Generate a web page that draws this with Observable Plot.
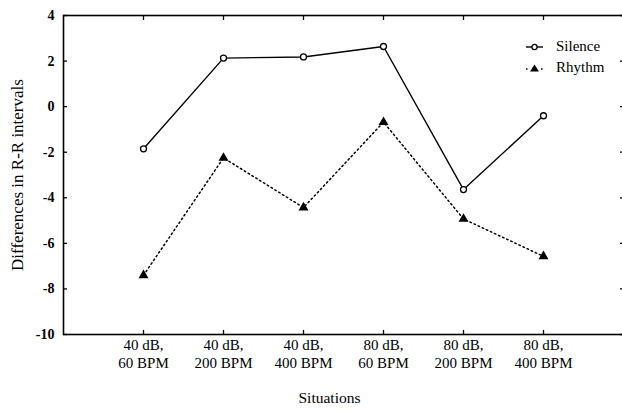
<!DOCTYPE html>
<html><head><meta charset="utf-8">
<script src="https://cdn.jsdelivr.net/npm/d3@7"></script>
<script src="https://cdn.jsdelivr.net/npm/@observablehq/plot@0.6"></script>
<style>
body{margin:0;background:#fff;}
#wrap{position:relative;width:622px;height:410px;font-family:"Liberation Serif","Times New Roman",Times,"DejaVu Serif","Noto Serif",serif;overflow:hidden;}
#legend{position:absolute;left:522px;top:36px;font-size:15px;color:#000;}
.lrow{display:flex;align-items:center;height:21px;}
.lrow svg{margin-right:10px;}
</style></head><body>
<div id="wrap"><div id="chart"></div><div id="legend"></div></div>
<script>
const situations = ["40 dB,\n60 BPM", "40 dB,\n200 BPM", "40 dB,\n400 BPM", "80 dB,\n60 BPM", "80 dB,\n200 BPM", "80 dB,\n400 BPM"];
const silence = [-1.85, 2.13, 2.18, 2.64, -3.64, -0.40];
const rhythm = [-7.40, -2.25, -4.43, -0.68, -4.93, -6.57];
const yTicks = [4, 2, 0, -2, -4, -6, -8, -10];
const seriesNames = ["Silence", "Rhythm"];
const yLabel = "Differences in R-R intervals";
const xLabel = "Situations";

const FONT = "'Liberation Serif', 'Times New Roman', Times, 'DejaVu Serif', 'Noto Serif', serif";
const silenceRows = situations.map((s, i) => ({situation: s, series: seriesNames[0], value: silence[i]}));
const rhythmRows = situations.map((s, i) => ({situation: s, series: seriesNames[1], value: rhythm[i]}));

const chart = Plot.plot({
  width: 622, height: 410,
  marginLeft: 63, marginRight: -1, marginTop: 15, marginBottom: 76,
  style: {fontFamily: FONT, fontSize: "15px", background: "#fff", color: "#000", overflow: "visible"},
  x: {type: "point", domain: situations, padding: 1},
  y: {domain: [-10, 4]},
  marks: [
    Plot.frame({stroke: "#000", strokeWidth: 1.6}),
    Plot.axisY(yTicks, {anchor: "left", tickSize: -4, tickPadding: 13, tickFormat: d => String(d), fontWeight: "bold", fontSize: 14, fontFamily: FONT, label: null, strokeWidth: 1.3}),
    Plot.axisY(yTicks, {anchor: "right", tickSize: -4, tickFormat: () => "", label: null, strokeWidth: 1.3}),
    Plot.axisX({anchor: "bottom", tickSize: -4, tickPadding: 7, fontSize: 15, fontFamily: FONT, lineHeight: 1.2, label: null, strokeWidth: 1.3}),
    Plot.axisX({anchor: "top", tickSize: -4, tickFormat: () => "", label: null, strokeWidth: 1.3}),
    Plot.text([yLabel], {frameAnchor: "left", dx: -46, rotate: -90, textAnchor: "middle", fontSize: 17, fontFamily: FONT}),
    Plot.text([xLabel], {frameAnchor: "bottom", dy: 68, dx: -14, fontSize: 15.5, fontFamily: FONT}),
    Plot.line(silenceRows, {x: "situation", y: "value", stroke: "#000", strokeWidth: 1.4}),
    Plot.line(rhythmRows, {x: "situation", y: "value", stroke: "#000", strokeWidth: 1.5, strokeDasharray: "1.5,3"}),
    Plot.dot(silenceRows, {x: "situation", y: "value", symbol: "circle", r: 3, fill: "#fff", stroke: "#000", strokeWidth: 1.3}),
    Plot.dot(rhythmRows, {x: "situation", y: "value", symbol: "triangle", r: 3.7, fill: "#000", stroke: "none"})
  ]
});
document.getElementById("chart").appendChild(chart);

const legend = document.getElementById("legend");
legend.innerHTML = `
<div class="lrow"><svg width="24" height="12"><line x1="4" y1="6" x2="21" y2="6" stroke="#000" stroke-width="1.4"/><circle cx="12.5" cy="6" r="2.6" fill="#fff" stroke="#000" stroke-width="1.3"/></svg><span>${seriesNames[0]}</span></div>
<div class="lrow"><svg width="24" height="12"><line x1="4" y1="7" x2="21" y2="7" stroke="#000" stroke-width="1.5" stroke-dasharray="1.5,6"/><path d="M12.5,2.5 L17,9.5 L8,9.5 Z" fill="#000"/></svg><span>${seriesNames[1]}</span></div>`;
</script>
</body></html>
